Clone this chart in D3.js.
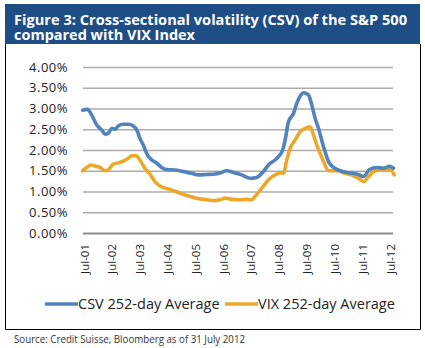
<!DOCTYPE html>
<html>
<head>
<meta charset="utf-8">
<script src="https://cdn.jsdelivr.net/npm/d3@7"></script>
<style>
  body { margin: 0; background: #fff; }
  svg { display: block; }
</style>
</head>
<body>
<div id="chart"></div>
<script>
// Values (decimal year, percent).
const csvYears = [2001.45, 2001.62, 2001.78, 2001.96, 2002.14, 2002.26, 2002.37, 2002.50, 2002.62, 2002.73,
  2002.91, 2003.09, 2003.27, 2003.40, 2003.51, 2003.63, 2003.78, 2003.94, 2004.12, 2004.29,
  2004.47, 2004.77, 2005.07, 2005.37, 2005.61, 2005.91, 2006.21, 2006.45, 2006.63, 2006.87,
  2007.17, 2007.47, 2007.71, 2007.95, 2008.13, 2008.37, 2008.49, 2008.63, 2008.73, 2008.85,
  2009.03, 2009.15, 2009.30, 2009.39, 2009.57, 2009.67, 2009.81, 2009.93, 2010.11, 2010.29,
  2010.47, 2010.71, 2011.01, 2011.31, 2011.55, 2011.76, 2012.03, 2012.27, 2012.48, 2012.63];
const csvValues = [2.96, 2.98, 2.84, 2.60, 2.48, 2.38, 2.40, 2.52, 2.50, 2.58,
  2.62, 2.62, 2.58, 2.48, 2.28, 2.12, 1.88, 1.76, 1.68, 1.58,
  1.53, 1.52, 1.48, 1.44, 1.40, 1.41, 1.42, 1.46, 1.50, 1.46,
  1.40, 1.32, 1.34, 1.48, 1.64, 1.76, 1.84, 1.98, 2.24, 2.68,
  2.88, 3.13, 3.33, 3.38, 3.33, 3.13, 2.76, 2.52, 2.08, 1.72,
  1.58, 1.50, 1.45, 1.42, 1.36, 1.53, 1.58, 1.56, 1.61, 1.56];

const vixYears = [2001.45, 2001.60, 2001.74, 2001.93, 2002.08, 2002.26, 2002.37, 2002.55, 2002.73, 2002.91,
  2003.09, 2003.22, 2003.37, 2003.51, 2003.69, 2003.87, 2004.05, 2004.23, 2004.59, 2004.95,
  2005.31, 2005.55, 2005.91, 2006.21, 2006.39, 2006.57, 2006.81, 2007.11, 2007.35, 2007.53,
  2007.65, 2007.89, 2008.13, 2008.37, 2008.55, 2008.67, 2008.79, 2008.91, 2009.09, 2009.27,
  2009.45, 2009.63, 2009.75, 2009.89, 2010.09, 2010.29, 2010.59, 2010.89, 2011.19, 2011.37,
  2011.55, 2011.73, 2011.91, 2012.15, 2012.39, 2012.51, 2012.65];
const vixValues = [1.50, 1.58, 1.64, 1.61, 1.58, 1.50, 1.52, 1.66, 1.69, 1.73,
  1.80, 1.86, 1.86, 1.76, 1.56, 1.42, 1.24, 1.13, 1.05, 0.96,
  0.88, 0.84, 0.80, 0.78, 0.80, 0.84, 0.81, 0.80, 0.81, 0.80,
  0.88, 1.08, 1.28, 1.40, 1.45, 1.44, 1.76, 2.04, 2.24, 2.44,
  2.52, 2.56, 2.36, 2.08, 1.76, 1.50, 1.50, 1.44, 1.38, 1.32,
  1.24, 1.36, 1.48, 1.52, 1.52, 1.53, 1.40];

const tickYears = [2001.5, 2002.5, 2003.5, 2004.5, 2005.5, 2006.5, 2007.5, 2008.5, 2009.5, 2010.5, 2011.5, 2012.5];
const tickLabels = ["Jul-01", "Jul-02", "Jul-03", "Jul-04", "Jul-05", "Jul-06",
  "Jul-07", "Jul-08", "Jul-09", "Jul-10", "Jul-11", "Jul-12"];
const yTicks = [0, 0.5, 1, 1.5, 2, 2.5, 3, 3.5, 4];
const seriesNames = ["CSV 252-day Average", "VIX 252-day Average"];

const titleLines = ["Figure 3: Cross-sectional volatility (CSV) of the S&P 500", "compared with VIX Index"];
const sourceText = "Source: Credit Suisse, Bloomberg as of 31 July 2012";

function createChart(width, height) {
    // Plot area bounds.
    const marginLeft = 83;
    const plotRight = 393;
    const plotTop = 67;
    const plotBottom = 233;

    const colors = ["#5383bc", "#eba82a"];
    const font = "'Open Sans', sans-serif";

    const x = d3.scaleLinear()
        .domain([2001.5, 2012.5])
        .range([84, 390]);

    const y = d3.scaleLinear()
        .domain([0, 4])
        .range([plotBottom, plotTop]);

    const svg = d3.create("svg")
        .attr("width", width)
        .attr("height", height)
        .attr("viewBox", [0, 0, width, height]);

    // Title bar.
    svg.append("rect")
        .attr("x", 5).attr("y", 4)
        .attr("width", 415).attr("height", 40)
        .attr("fill", "#1f4e86");

    // Title text squeezed to the reference widths (condensed face is not available).
    const titleWidths = [393, 181];
    svg.append("g")
        .selectAll("text")
        .data(titleLines)
        .join("text")
        .attr("x", 14)
        .attr("y", (d, i) => 25 + i * 15)
        .attr("fill", "#fff")
        .attr("textLength", (d, i) => titleWidths[i])
        .attr("lengthAdjust", "spacingAndGlyphs")
        .style("font", "bold 15px 'Open Sans', sans-serif")
        .text(d => d);

    // Frame under the title.
    svg.append("path")
        .attr("d", "M5.5,44V329.5H420.5V44")
        .attr("fill", "none")
        .attr("stroke", "#000")
        .attr("stroke-width", 1);

    // Grid lines and y labels.
    svg.append("g")
        .attr("transform", `translate(${marginLeft},0)`)
        .call(d3.axisLeft(y).tickValues(yTicks).tickSize(0).tickPadding(15)
            .tickFormat(d => d.toFixed(2) + "%"))
        .call(g => g.select(".domain").remove())
        .call(g => g.selectAll(".tick text")
            .attr("fill", "#222")
            .style("font", `13px ${font}`)
            .style("letter-spacing", "0.5px"))
        .call(g => g.selectAll(".tick line").clone()
            .attr("x2", plotRight - marginLeft)
            .attr("stroke", d => d === 0 ? "#8c8c8c" : "#ababab")
            .attr("stroke-width", d => d === 0 ? 2.2 : 1.3));

    // X labels, rotated.
    svg.append("g")
        .attr("transform", `translate(0,${plotBottom})`)
        .call(d3.axisBottom(x).tickValues(tickYears).tickSize(0)
            .tickFormat((d, i) => tickLabels[i]))
        .call(g => g.select(".domain").remove())
        .call(g => g.selectAll(".tick text")
            .attr("fill", "#222")
            .style("font", `11.5px ${font}`)
            .attr("text-anchor", "end")
            .attr("transform", "rotate(-90)")
            .attr("x", -11)
            .attr("y", 0)
            .attr("dy", "0.35em"));

    // Lines.
    const line = d3.line()
        .x(d => x(d[0]))
        .y(d => y(d[1]))
        .curve(d3.curveMonotoneX);

    const dataSets = [
        csvYears.map((t, i) => [t, csvValues[i]]),
        vixYears.map((t, i) => [t, vixValues[i]])
    ];

    // Draw VIX first so CSV sits on top.
    [1, 0].forEach(i => {
        svg.append("path")
            .datum(dataSets[i])
            .attr("fill", "none")
            .attr("stroke", colors[i])
            .attr("stroke-width", 3.6)
            .attr("stroke-linejoin", "round")
            .attr("stroke-linecap", "round")
            .attr("d", line);
    });

    // Legend.
    const legendX = [45, 225];
    const legend = svg.selectAll(".legend")
        .data(seriesNames)
        .join("g")
        .attr("class", "legend")
        .attr("transform", (d, i) => `translate(${legendX[i]},304)`);

    legend.append("line")
        .attr("x1", 0).attr("x2", 33)
        .attr("stroke", (d, i) => colors[i])
        .attr("stroke-width", 3.6);

    legend.append("text")
        .attr("x", 33)
        .attr("dy", "0.35em")
        .attr("fill", "#222")
        .style("font", `14.5px ${font}`)
        .text(d => d);

    // Source note.
    svg.append("text")
        .attr("x", 14)
        .attr("y", 343)
        .attr("fill", "#333")
        .attr("textLength", 231)
        .attr("lengthAdjust", "spacingAndGlyphs")
        .style("font", "11px 'Open Sans', sans-serif")
        .text(sourceText);

    return svg.node();
}

document.getElementById("chart").appendChild(createChart(425, 348));
</script>
</body>
</html>
